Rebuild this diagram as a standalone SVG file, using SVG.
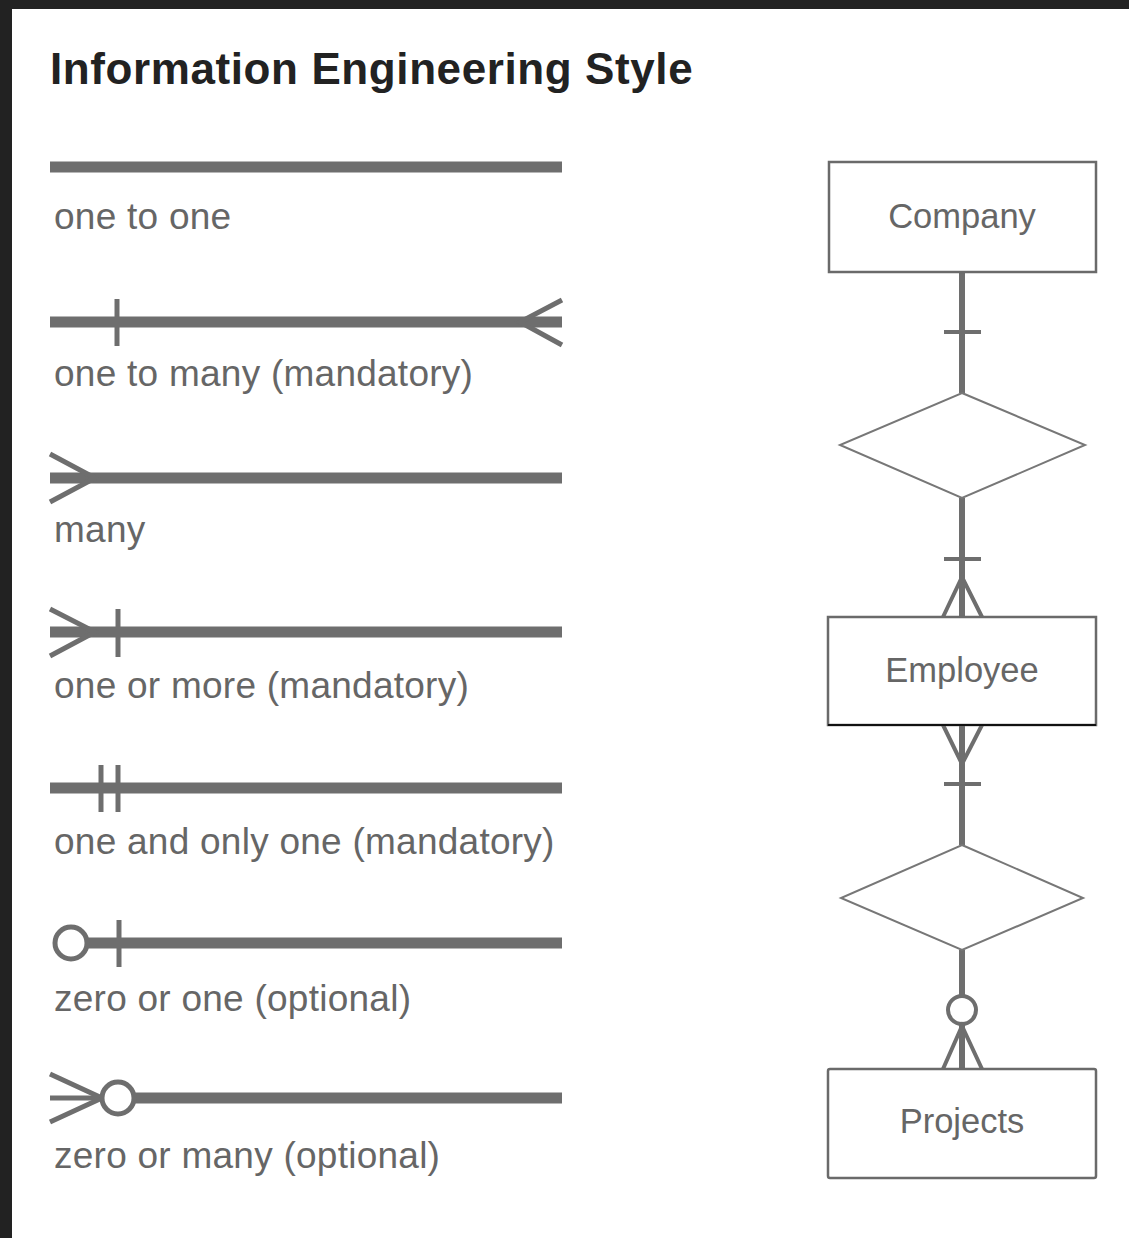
<svg xmlns="http://www.w3.org/2000/svg" width="1129" height="1238" viewBox="0 0 1129 1238">
  <style>
    .title { font-family: "Liberation Sans", Arial, sans-serif; font-size: 44px; font-weight: bold; letter-spacing: 0.6px; fill: #222222; }
    .label { font-family: "Liberation Sans", Arial, sans-serif; font-size: 37px; letter-spacing: 0.25px; fill: #666666; }
    .ename { font-family: "Liberation Sans", Arial, sans-serif; font-size: 34.5px; fill: #666666; text-anchor: middle; }
    .bar { stroke: #6e6e6e; stroke-width: 11; fill: none; }
    .mark { stroke: #6e6e6e; stroke-width: 5; fill: none; }
    .ring { stroke: #6e6e6e; stroke-width: 5; fill: #ffffff; }
    .entity { fill: #ffffff; stroke: #6a6a6a; stroke-width: 2.5; }
    .rel { fill: #ffffff; stroke: #777777; stroke-width: 2; }
    .link { stroke: #6e6e6e; stroke-width: 6; fill: none; }
    .lmark { stroke: #6e6e6e; stroke-width: 4; fill: none; }
    .lring { stroke: #6e6e6e; stroke-width: 4; fill: #ffffff; }
  </style>

  <!-- frame -->
  <rect x="0" y="0" width="1129" height="1238" fill="#222222"/>
  <rect x="12" y="9" width="1117" height="1229" fill="#ffffff"/>

  <text class="title" x="50" y="84">Information Engineering Style</text>

  <!-- legend of line endings -->
  <g id="legend">
    <g id="one-to-one">
      <line class="bar" x1="50" y1="167" x2="562" y2="167"/>
      <text class="label" x="54" y="229">one to one</text>
    </g>
    <g id="one-to-many">
      <line class="bar" x1="50" y1="322" x2="562" y2="322"/>
      <line class="mark" x1="117" y1="299" x2="117" y2="346"/>
      <polyline class="mark" points="562,300 520,322 562,345"/>
      <text class="label" x="54" y="386">one to many (mandatory)</text>
    </g>
    <g id="many">
      <line class="bar" x1="50" y1="478" x2="562" y2="478"/>
      <polyline class="mark" points="50,454 95,478 50,502"/>
      <text class="label" x="54" y="542">many</text>
    </g>
    <g id="one-or-more">
      <line class="bar" x1="50" y1="632" x2="562" y2="632"/>
      <polyline class="mark" points="50,609 95,632 50,656"/>
      <line class="mark" x1="118" y1="609" x2="118" y2="657"/>
      <text class="label" x="54" y="698">one or more (mandatory)</text>
    </g>
    <g id="one-and-only-one">
      <line class="bar" x1="50" y1="788" x2="562" y2="788"/>
      <line class="mark" x1="101" y1="765" x2="101" y2="812"/>
      <line class="mark" x1="118" y1="765" x2="118" y2="812"/>
      <text class="label" x="54" y="854">one and only one (mandatory)</text>
    </g>
    <g id="zero-or-one">
      <line class="bar" x1="85" y1="943" x2="562" y2="943"/>
      <circle class="ring" cx="71" cy="943" r="16"/>
      <line class="mark" x1="119" y1="920" x2="119" y2="967"/>
      <text class="label" x="54" y="1011">zero or one (optional)</text>
    </g>
    <g id="zero-or-many">
      <line class="bar" x1="130" y1="1098" x2="562" y2="1098"/>
      <polyline class="mark" points="50,1074 102,1098 50,1122"/>
      <line class="mark" x1="50" y1="1098" x2="102" y2="1098"/>
      <circle class="ring" cx="118" cy="1098" r="16"/>
      <text class="label" x="54" y="1168">zero or many (optional)</text>
    </g>
  </g>

  <!-- example model -->
  <g id="connectors">
    <!-- Company to first relationship -->
    <line class="link" x1="962" y1="272" x2="962" y2="393"/>
    <line class="lmark" x1="944" y1="332" x2="981" y2="332"/>
    <!-- first relationship to Employee -->
    <line class="link" x1="962" y1="498" x2="962" y2="617"/>
    <line class="lmark" x1="944" y1="559" x2="981" y2="559"/>
    <polyline class="lmark" points="943,617 962,577 982,617"/>
    <!-- Employee to second relationship -->
    <line class="link" x1="962" y1="725" x2="962" y2="845"/>
    <polyline class="lmark" points="943,725 962,764 982,725"/>
    <line class="lmark" x1="944" y1="784" x2="981" y2="784"/>
    <!-- second relationship to Projects -->
    <line class="link" x1="962" y1="950" x2="962" y2="996"/>
    <line class="link" x1="962" y1="1024" x2="962" y2="1069"/>
    <circle class="lring" cx="962" cy="1010" r="14"/>
    <polyline class="lmark" points="943,1069 962,1026 982,1069"/>
  </g>

  <g id="company">
    <rect class="entity" x="829" y="162" width="267" height="110"/>
    <text class="ename" x="962" y="228">Company</text>
  </g>
  <g id="relationship-1">
    <polygon class="rel" points="962,393 1085,445 962,498 840,445"/>
  </g>
  <g id="employee">
    <rect class="entity" x="828" y="617" width="268" height="108"/>
    <line x1="828" y1="725" x2="1096" y2="725" stroke="#111111" stroke-width="2"/>
    <text class="ename" x="962" y="682">Employee</text>
  </g>
  <g id="relationship-2">
    <polygon class="rel" points="962,845 1083,898 962,950 841,898"/>
  </g>
  <g id="projects">
    <rect class="entity" x="828" y="1069" width="268" height="109" rx="2"/>
    <text class="ename" x="962" y="1133">Projects</text>
  </g>
</svg>
